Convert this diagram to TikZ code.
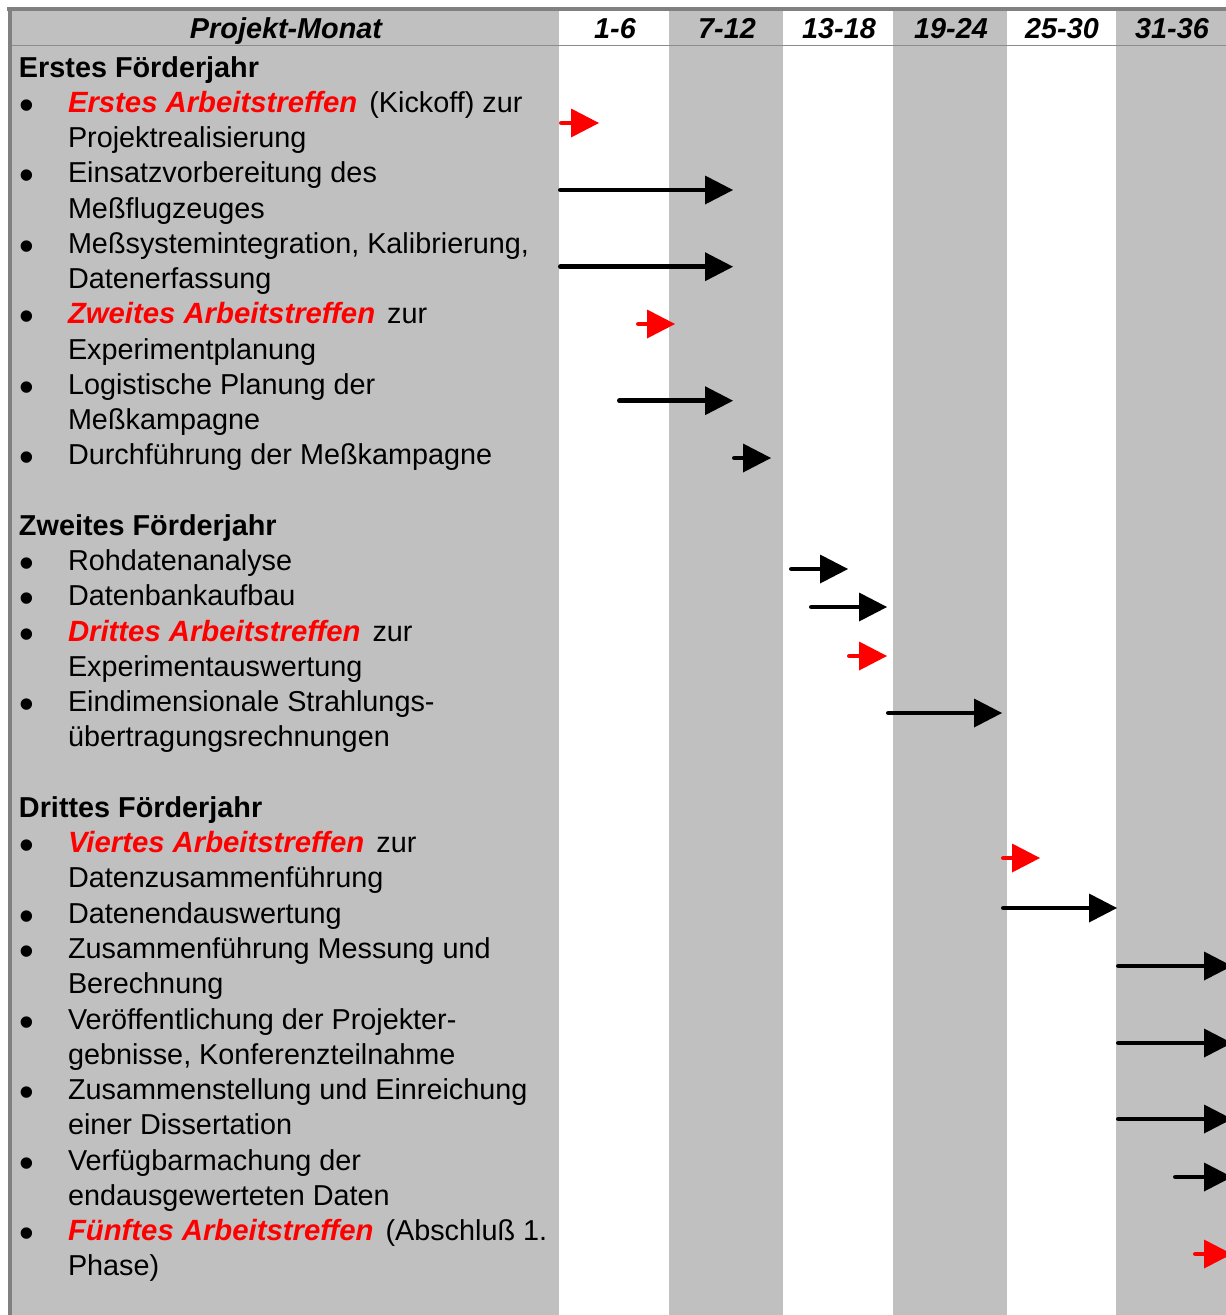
\documentclass[tikz,border=0pt]{standalone}
\usepackage{fontspec}
\setmainfont{Liberation Sans}
\definecolor{cgray}{HTML}{C0C0C0}
\definecolor{bgray}{HTML}{808080}
\definecolor{lgray}{HTML}{8C8C8C}
\definecolor{cred}{HTML}{FF0000}
\newcommand\redem[1]{\textcolor{cred}{\fontsize{29.3}{35.2}\selectfont\bfseries\itshape #1}\hspace{4pt}}
\newcommand\ganttarr[5]{%
  \coordinate (#5s) at (#3+2.25,#2);
  \coordinate (#5e) at (#4-26,#2);
  \draw[#1, line width=4.5, line cap=round] (#5s) -- (#5e);
  \fill[#1] (#4-28,#2-14.5) -- (#4,#2) -- (#4-28,#2+14.5) -- cycle;
}
\begin{document}
\begin{tikzpicture}[x=1pt,y=-1pt,
  txt/.style={anchor=base west, inner sep=0pt, outer sep=0pt, font=\fontsize{28.8}{35.2}\selectfont},
  hd/.style={anchor=base west, inner sep=0pt, outer sep=0pt, font=\fontsize{28.8}{35.2}\selectfont\bfseries},
  bul/.style={anchor=base, inner sep=0pt, outer sep=0pt, yshift=-7pt, text height=20pt, text depth=-8pt, font=\fontsize{42}{42}\selectfont},
  colhd/.style={anchor=base, inner sep=0pt, outer sep=0pt, font=\fontsize{28.8}{35.2}\selectfont\bfseries\itshape}]
\clip (0,0) rectangle (1226,1315);
\fill[white] (0,0) rectangle (1226,1315);
% columns
\fill[cgray] (11,11) rectangle (559,1315);
\fill[cgray] (669,11) rectangle (783,1315);
\fill[cgray] (893,11) rectangle (1007,1315);
\fill[cgray] (1116,11) rectangle (1226,1315);
% header line and borders
\draw[lgray, line width=1.5] (11,45.7) -- (1226,45.7);
\draw[bgray, line width=3.7] (7.3,9.2) -- (1226,9.2);
\draw[bgray, line width=4] (9.5,7.3) -- (9.5,1315);
% header texts
\node[colhd] (hpm) at (286,38) {Projekt-Monat};
\node[colhd] (hc1) at (615,38) {1-6};
\node[colhd] (hc2) at (727,38) {7-12};
\node[colhd] (hc3) at (839,38) {13-18};
\node[colhd] (hc4) at (951,38) {19-24};
\node[colhd] (hc5) at (1062,38) {25-30};
\node[colhd] (hc6) at (1172,38) {31-36};
% first year
\node[hd] (h1) at (19,77.00) {Erstes Förderjahr};
\node[bul] (b1) at (26.5,112.26) {•};
\node[txt] (t1) at (68,112.26) {\redem{Erstes Arbeitstreffen} (Kickoff) zur};
\node[txt] (t2) at (68,147.52) {Projektrealisierung};
\node[bul] (b3) at (26.5,182.78) {•};
\node[txt] (t3) at (68,182.78) {Einsatzvorbereitung des};
\node[txt] (t4) at (68,218.04) {Meßflugzeuges};
\node[bul] (b5) at (26.5,253.30) {•};
\node[txt] (t5) at (68,253.30) {Meßsystemintegration, Kalibrierung,};
\node[txt] (t6) at (68,288.56) {Datenerfassung};
\node[bul] (b7) at (26.5,323.82) {•};
\node[txt] (t7) at (68,323.82) {\redem{Zweites Arbeitstreffen} zur};
\node[txt] (t8) at (68,359.08) {Experimentplanung};
\node[bul] (b9) at (26.5,394.34) {•};
\node[txt] (t9) at (68,394.34) {Logistische Planung der};
\node[txt] (t10) at (68,429.60) {Meßkampagne};
\node[bul] (b11) at (26.5,464.86) {•};
\node[txt] (t11) at (68,464.86) {Durchführung der Meßkampagne};
% second year
\node[hd] (h2) at (19,535.38) {Zweites Förderjahr};
\node[bul] (b14) at (26.5,570.64) {•};
\node[txt] (t14) at (68,570.64) {Rohdatenanalyse};
\node[bul] (b15) at (26.5,605.90) {•};
\node[txt] (t15) at (68,605.90) {Datenbankaufbau};
\node[bul] (b16) at (26.5,641.16) {•};
\node[txt] (t16) at (68,641.16) {\redem{Drittes Arbeitstreffen} zur};
\node[txt] (t17) at (68,676.42) {Experimentauswertung};
\node[bul] (b18) at (26.5,711.68) {•};
\node[txt] (t18) at (68,711.68) {Eindimensionale Strahlungs-};
\node[txt] (t19) at (68,746.94) {übertragungsrechnungen};
% third year
\node[hd] (h3) at (19,817.46) {Drittes Förderjahr};
\node[bul] (b22) at (26.5,852.72) {•};
\node[txt] (t22) at (68,852.72) {\redem{Viertes Arbeitstreffen} zur};
\node[txt] (t23) at (68,887.98) {Datenzusammenführung};
\node[bul] (b24) at (26.5,923.24) {•};
\node[txt] (t24) at (68,923.24) {Datenendauswertung};
\node[bul] (b25) at (26.5,958.50) {•};
\node[txt] (t25) at (68,958.50) {Zusammenführung Messung und};
\node[txt] (t26) at (68,993.76) {Berechnung};
\node[bul] (b27) at (26.5,1029.02) {•};
\node[txt] (t27) at (68,1029.02) {Veröffentlichung der Projekter-};
\node[txt] (t28) at (68,1064.28) {gebnisse, Konferenzteilnahme};
\node[bul] (b29) at (26.5,1099.54) {•};
\node[txt] (t29) at (68,1099.54) {Zusammenstellung und Einreichung};
\node[txt] (t30) at (68,1134.80) {einer Dissertation};
\node[bul] (b31) at (26.5,1170.06) {•};
\node[txt] (t31) at (68,1170.06) {Verfügbarmachung der};
\node[txt] (t32) at (68,1205.32) {endausgewerteten Daten};
\node[bul] (b33) at (26.5,1240.58) {•};
\node[txt] (t33) at (68,1240.58) {\redem{Fünftes Arbeitstreffen} (Abschluß 1.};
\node[txt] (t34) at (68,1275.84) {Phase)};
% gantt arrows
\ganttarr{cred}{123}{559}{599}{a1}
\ganttarr{black}{190}{558}{733}{a2}
\ganttarr{black}{266.7}{558}{733}{a3}
\ganttarr{cred}{324}{636}{675}{a4}
\ganttarr{black}{400.7}{617}{733}{a5}
\ganttarr{black}{458}{732}{771}{a6}
\ganttarr{black}{569}{789}{848}{a7}
\ganttarr{black}{607}{809}{887}{a8}
\ganttarr{cred}{656}{847}{887}{a9}
\ganttarr{black}{713}{886}{1002}{a10}
\ganttarr{cred}{858}{1001}{1040}{a11}
\ganttarr{black}{908}{1001}{1117}{a12}
\ganttarr{black}{966}{1116}{1232}{a13}
\ganttarr{black}{1043}{1116}{1232}{a14}
\ganttarr{black}{1119}{1116}{1232}{a15}
\ganttarr{black}{1177}{1173}{1232}{a16}
\ganttarr{cred}{1254}{1193}{1232}{a17}
\end{tikzpicture}
\end{document}
